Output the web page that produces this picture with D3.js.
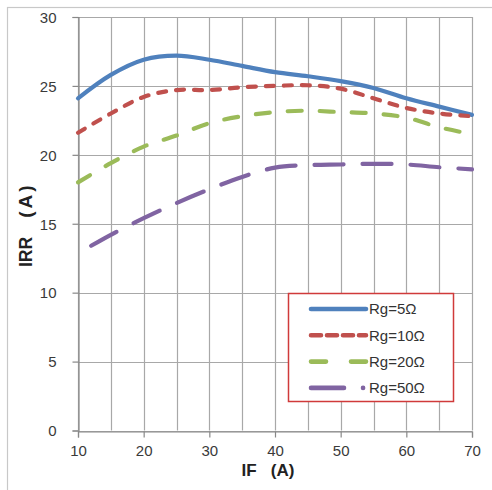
<!DOCTYPE html>
<html><head><meta charset="utf-8">
<script src="https://cdn.jsdelivr.net/npm/d3@7"></script>
<style>body{margin:0;background:#fff}svg{display:block}text{white-space:pre}</style>
</head><body>
<svg id="c" width="492" height="490"></svg>
<script>
const xValues = [10,15,20,25,30,35,40,45,50,55,60,65,70];
const xValues50 = [12,15,20,25,30,35,40,45,50,55,60,65,70];
const rg5  = [24.1,25.8,26.9,27.2,26.9,26.45,26.0,25.7,25.35,24.85,24.1,23.5,22.9];
const rg10 = [21.6,23.0,24.2,24.7,24.7,24.9,25.0,25.05,24.8,24.1,23.4,23.0,22.8];
const rg20 = [18.0,19.4,20.6,21.4,22.3,22.8,23.1,23.2,23.1,23.0,22.7,22.0,21.5];
const rg50 = [13.4,14.2,15.4,16.5,17.5,18.4,19.07,19.25,19.3,19.35,19.3,19.1,18.95];
const seriesNames = ["Rg=5Ω","Rg=10Ω","Rg=20Ω","Rg=50Ω"];
const xTicks = [10,20,30,40,50,60,70];
const yTicks = [0,5,10,15,20,25,30];

const colors = ["#4F81BD","#C0504D","#9BBB59","#8064A2"];
const dashes = [null,"8,10","14,18","29,19"];
const legendDashes = [null,"10,6","15,25","33,19,0.1,60"];

const svg = d3.select("#c");
const m = {l:78,r:472,t:17,b:430.5};
const x = d3.scaleLinear().domain([10,70]).range([m.l,m.r]);
const y = d3.scaleLinear().domain([0,30]).range([m.b,m.t]);

// outer frame
svg.append("rect").attr("x",7.5).attr("y",7.5).attr("width",500).attr("height",500)
  .attr("fill","none").attr("stroke","#c8c8c8").attr("stroke-width",1.2);

const g = svg.append("g");
// grid
g.selectAll(".vg").data(d3.range(10,71,5)).join("line")
  .attr("x1",d=>Math.round(x(d))+0.5).attr("x2",d=>Math.round(x(d))+0.5)
  .attr("y1",m.t).attr("y2",m.b).attr("stroke","#a8a8a8").attr("stroke-width",1.2);
g.selectAll(".hg").data(yTicks).join("line")
  .attr("x1",m.l).attr("x2",m.r)
  .attr("y1",d=>Math.round(y(d))+0.5).attr("y2",d=>Math.round(y(d))+0.5)
  .attr("stroke","#a8a8a8").attr("stroke-width",1.2);

// axes
const xAxis = d3.axisBottom(x).tickValues(xTicks).tickSize(6).tickPadding(8).tickFormat(d3.format("d"));
const yAxis = d3.axisLeft(y).tickValues(yTicks).tickSize(6).tickPadding(16).tickFormat(d3.format("d"));
const gx = svg.append("g").attr("transform",`translate(0,${Math.round(y(0))+0.5})`).call(xAxis);
const gy = svg.append("g").attr("transform",`translate(${Math.round(x(10))+0.5},0)`).call(yAxis);
[gx,gy].forEach(a=>{
  a.select(".domain").attr("stroke","#888").attr("stroke-width",1.2);
  a.selectAll(".tick line").attr("stroke","#888").attr("stroke-width",1.2);
  a.selectAll("text").attr("font-family","Liberation Sans, Arial, sans-serif")
    .attr("font-size",15).attr("fill","#3a3a3a");
});
gy.selectAll("text").attr("dy","0.35em");

// lines
const data = [
  xValues.map((d,i)=>[d,rg5[i]]),
  xValues.map((d,i)=>[d,rg10[i]]),
  xValues.map((d,i)=>[d,rg20[i]]),
  xValues50.map((d,i)=>[d,rg50[i]])
];
const line = d3.line().x(d=>x(d[0])).y(d=>y(d[1])).curve(d3.curveCatmullRom.alpha(0.5));
svg.selectAll(".s").data(data).join("path")
  .attr("d",line).attr("fill","none")
  .attr("stroke",(d,i)=>colors[i]).attr("stroke-width",4.2)
  .attr("stroke-linecap","round").attr("stroke-linejoin","round")
  .attr("stroke-dasharray",(d,i)=>dashes[i]);

// legend
const lg = svg.append("g");
lg.append("rect").attr("x",288.5).attr("y",293.5).attr("width",165).attr("height",108)
  .attr("fill","#fff").attr("stroke","#D03A3A").attr("stroke-width",1.5);
seriesNames.forEach((name,i)=>{
  const yy = 309 + i*26.3;
  lg.append("line").attr("x1",311).attr("x2",366).attr("y1",yy).attr("y2",yy)
    .attr("stroke",colors[i]).attr("stroke-width",4.6).attr("stroke-linecap","round")
    .attr("stroke-dasharray",legendDashes[i]);
  lg.append("text").attr("x",369).attr("y",yy).attr("dy","0.36em")
    .attr("font-family","Liberation Sans, Arial, sans-serif").attr("font-size",15)
    .attr("fill","#333").text(name);
});

// axis titles
svg.append("text").attr("x",268).attr("y",476).attr("text-anchor","middle")
  .attr("font-family","Liberation Sans, Arial, sans-serif").attr("font-size",17)
  .attr("font-weight","bold").attr("fill","#222").text("IF   (A)");
const yt = svg.append("text").attr("transform","translate(32,267) rotate(-90)")
  .attr("font-family","Liberation Sans, Arial, sans-serif").attr("font-size",17.5)
  .attr("font-weight","bold").attr("fill","#222");
yt.append("tspan").text("IRR");
yt.append("tspan").attr("dx",19).attr("font-size",19).attr("letter-spacing",3).text("(A)");
</script>
</body></html>
